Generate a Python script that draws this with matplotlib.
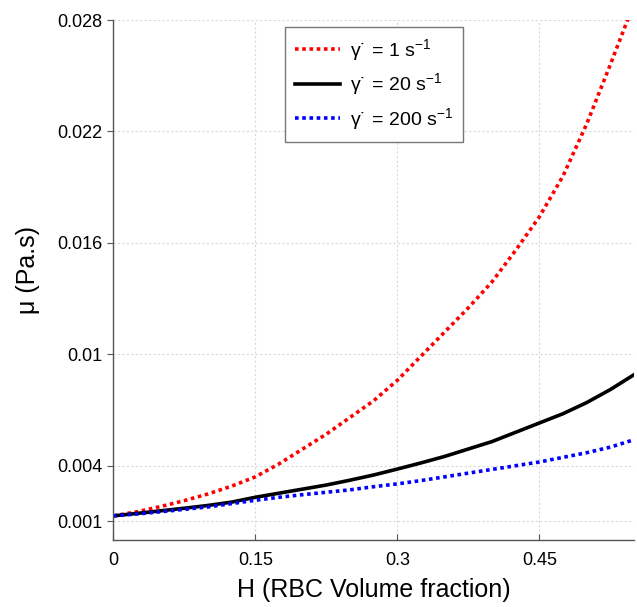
import matplotlib
matplotlib.use("Agg")
import matplotlib.pyplot as plt

plt.rcParams['font.family'] = ['Liberation Sans', 'DejaVu Sans']
plt.rcParams['mathtext.fontset'] = 'custom'
plt.rcParams['mathtext.rm'] = 'Liberation Sans'
plt.rcParams['mathtext.default'] = 'regular'

H = [0.0, 0.025, 0.05, 0.075, 0.10, 0.125, 0.15, 0.175, 0.20, 0.225, 0.25, 0.275,
     0.30, 0.325, 0.35, 0.375, 0.40, 0.425, 0.45, 0.475, 0.50, 0.525, 0.55]
mu_1 = [0.0013, 0.00152, 0.0018, 0.00212, 0.00248, 0.0029, 0.0034, 0.0041, 0.0049,
        0.0057, 0.0066, 0.0075, 0.0086, 0.0099, 0.0112, 0.0125, 0.0139, 0.0156,
        0.0174, 0.0196, 0.0224, 0.0256, 0.0289]
mu_20 = [0.0013, 0.00143, 0.00157, 0.00171, 0.00186, 0.00204, 0.0023, 0.00252, 0.00274,
         0.00296, 0.00322, 0.0035, 0.00382, 0.00415, 0.0045, 0.0049, 0.0053, 0.0058,
         0.0063, 0.0068, 0.0074, 0.0081, 0.0089]
mu_200 = [0.0013, 0.0014, 0.00152, 0.00165, 0.00178, 0.00196, 0.00214, 0.0023, 0.00244,
          0.00257, 0.0027, 0.00287, 0.00302, 0.0032, 0.0034, 0.0036, 0.0038, 0.0040,
          0.0042, 0.00445, 0.0047, 0.0050, 0.0054]
labels = ['γ˙ = 1 s$^{-1}$', 'γ˙ = 20 s$^{-1}$', 'γ˙ = 200 s$^{-1}$']
xticks = [0, 0.15, 0.3, 0.45]
xticklabels = ['0', '0.15', '0.3', '0.45']
yticks = [0.001, 0.004, 0.01, 0.016, 0.022, 0.028]
yticklabels = ['0.001', '0.004', '0.01', '0.016', '0.022', '0.028']

fig = plt.figure(figsize=(6.37, 6.07), dpi=100)
ax = fig.add_axes([0.1779, 0.1104, 0.8174, 0.8566])

ax.plot(H, mu_1, color='red', linestyle=(0, (1, 1)), linewidth=2.6, label=labels[0])
ax.plot(H, mu_20, color='black', linestyle='-', linewidth=2.6, label=labels[1])
ax.plot(H, mu_200, color='blue', linestyle=(0, (1, 1)), linewidth=2.6, label=labels[2])

ax.set_xlim(0, 0.55)
ax.set_ylim(0, 0.028)
ax.set_xticks(xticks)
ax.set_xticklabels(xticklabels)
ax.set_yticks(yticks)
ax.set_yticklabels(yticklabels)

ax.grid(True, color='#d9d9d9', linestyle=(0, (2, 2)), linewidth=0.8)
ax.set_axisbelow(True)

for s in ['top', 'right']:
    ax.spines[s].set_visible(False)
for s in ['left', 'bottom']:
    ax.spines[s].set_color('#555555')
    ax.spines[s].set_linewidth(1.0)

ax.tick_params(axis='x', direction='in', length=4, color='#555555', labelsize=13, pad=9)
ax.tick_params(axis='y', direction='out', length=4, color='#555555', labelsize=13, pad=4)

ax.set_xlabel('H (RBC Volume fraction)', fontsize=18, labelpad=6)
ax.set_ylabel('μ (Pa.s)', fontsize=18)
ax.yaxis.set_label_coords(-0.141, 0.52)

leg = ax.legend(loc='upper left', bbox_to_anchor=(0.33, 0.9865), borderaxespad=0,
                fontsize=14, handlelength=2.3, handletextpad=0.55,
                labelspacing=0.45, borderpad=0.5,
                fancybox=False, framealpha=1, edgecolor='#777777')
leg.get_frame().set_linewidth(1.0)

fig.savefig('out.png', dpi=100)
